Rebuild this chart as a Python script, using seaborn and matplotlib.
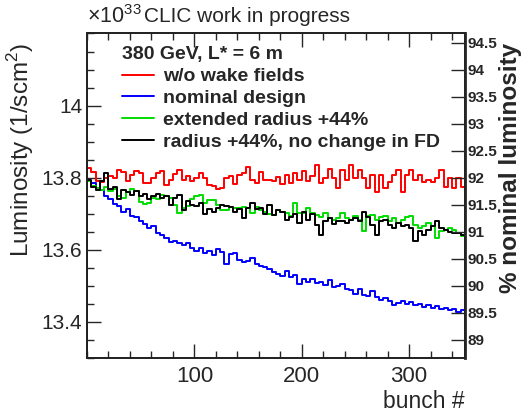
import matplotlib
matplotlib.use("Agg")
import matplotlib.pyplot as plt
from matplotlib.ticker import MultipleLocator
import numpy as np
import pandas as pd
import seaborn as sns

# bunch bins (4 bunches per bin, 352 bunches)
edges = np.arange(0, 356, 4)

# luminosity per bin (units of 1e33 / s cm^2)
wo_wake = [13.826, 13.816, 13.792, 13.788, 13.800, 13.806, 13.798, 13.822, 13.815, 13.790,
           13.807, 13.820, 13.812, 13.786, 13.784, 13.800, 13.812, 13.820, 13.780, 13.795,
           13.810, 13.822, 13.795, 13.805, 13.790, 13.800, 13.812, 13.798, 13.780, 13.778,
           13.770, 13.772, 13.800, 13.805, 13.782, 13.808, 13.812, 13.830, 13.795, 13.785,
           13.815, 13.795, 13.793, 13.790, 13.803, 13.782, 13.808, 13.786, 13.812, 13.795,
           13.820, 13.790, 13.806, 13.835, 13.785, 13.798, 13.825, 13.798, 13.771, 13.821,
           13.794, 13.835, 13.798, 13.821, 13.798, 13.771, 13.807, 13.761, 13.807, 13.771,
           13.789, 13.807, 13.821, 13.761, 13.807, 13.821, 13.794, 13.807, 13.789, 13.794,
           13.789, 13.800, 13.821, 13.775, 13.798, 13.771, 13.800, 13.775]
nominal = [13.790, 13.785, 13.770, 13.765, 13.748, 13.742, 13.728, 13.722, 13.705, 13.712,
           13.695, 13.690, 13.680, 13.672, 13.660, 13.665, 13.648, 13.640, 13.632, 13.622,
           13.625, 13.618, 13.612, 13.620, 13.605, 13.598, 13.604, 13.592, 13.598, 13.585,
           13.602, 13.594, 13.560, 13.588, 13.590, 13.572, 13.565, 13.570, 13.576, 13.560,
           13.555, 13.552, 13.548, 13.538, 13.532, 13.528, 13.540, 13.525, 13.530, 13.505,
           13.520, 13.512, 13.518, 13.508, 13.512, 13.502, 13.515, 13.498, 13.500, 13.505,
           13.492, 13.488, 13.478, 13.490, 13.476, 13.472, 13.485, 13.468, 13.462, 13.465,
           13.458, 13.448, 13.452, 13.458, 13.450, 13.455, 13.446, 13.450, 13.442, 13.448,
           13.440, 13.444, 13.436, 13.440, 13.432, 13.436, 13.428, 13.432]
ext_radius = [13.790, 13.776, 13.772, 13.765, 13.775, 13.762, 13.770, 13.748, 13.745, 13.760,
              13.770, 13.762, 13.732, 13.728, 13.730, 13.745, 13.740, 13.752, 13.748, 13.745,
              13.725, 13.702, 13.715, 13.722, 13.740, 13.750, 13.752, 13.730, 13.738, 13.739,
              13.725, 13.711, 13.711, 13.720, 13.716, 13.716, 13.720, 13.716, 13.702, 13.720,
              13.711, 13.706, 13.700, 13.697, 13.711, 13.706, 13.702, 13.695, 13.729, 13.702,
              13.702, 13.716, 13.702, 13.697, 13.690, 13.702, 13.688, 13.684, 13.688, 13.702,
              13.688, 13.684, 13.693, 13.684, 13.651, 13.693, 13.697, 13.684, 13.690, 13.693,
              13.679, 13.688, 13.674, 13.684, 13.690, 13.693, 13.670, 13.660, 13.665, 13.674,
              13.665, 13.633, 13.651, 13.656, 13.660, 13.656, 13.647, 13.638]
radius_no_fd = [13.794, 13.775, 13.766, 13.790, 13.812, 13.770, 13.775, 13.740, 13.765, 13.760,
                13.752, 13.762, 13.748, 13.755, 13.742, 13.750, 13.755, 13.745, 13.748, 13.725,
                13.745, 13.752, 13.711, 13.735, 13.725, 13.722, 13.730, 13.700, 13.712, 13.705,
                13.716, 13.725, 13.722, 13.720, 13.706, 13.712, 13.688, 13.716, 13.729, 13.712,
                13.716, 13.700, 13.725, 13.697, 13.711, 13.704, 13.684, 13.690, 13.700, 13.674,
                13.705, 13.684, 13.700, 13.670, 13.642, 13.679, 13.688, 13.672, 13.680, 13.679,
                13.674, 13.684, 13.688, 13.680, 13.706, 13.690, 13.670, 13.642, 13.679, 13.684,
                13.670, 13.661, 13.674, 13.665, 13.670, 13.660, 13.624, 13.651, 13.642, 13.655,
                13.665, 13.679, 13.661, 13.656, 13.650, 13.647, 13.647, 13.642]

labels = ["w/o wake fields", "nominal design", "extended radius +44%",
          "radius +44%, no change in FD"]
colors = ["#ff0000", "#0000ff", "#00dd00", "#000000"]
l_nominal = 15.0   # 100 % nominal luminosity

# histogram outline: drop to the floor at both ends like ROOT does
floor = 13.0
rows = []
for lab, vals in zip(labels, [wo_wake, nominal, ext_radius, radius_no_fd]):
    xs = np.concatenate([[edges[0]], edges, [edges[-1]]])
    ys = np.concatenate([[floor], vals, [vals[-1], floor]])
    for x, y in zip(xs, ys):
        rows.append((lab, x, y))
df = pd.DataFrame(rows, columns=["series", "bunch", "lumi"])

sns.set_theme(style="ticks")
plt.rcParams["font.family"] = ["Liberation Sans", "DejaVu Sans"]
plt.rcParams["mathtext.fontset"] = "custom"
plt.rcParams["mathtext.rm"] = "Liberation Sans"

fig = plt.figure(figsize=(5.29, 4.11), dpi=100)
ax = fig.add_axes([0.1645, 0.129, 0.7145, 0.7895])

sns.lineplot(data=df, x="bunch", y="lumi", hue="series", hue_order=labels,
             palette=colors, sort=False, estimator=None, drawstyle="steps-post",
             linewidth=1.4, ax=ax, legend=False)

ax.set_xlim(0, 352)
ax.set_ylim(13.3, 14.2)
ax.xaxis.set_minor_locator(MultipleLocator(20))
ax.yaxis.set_minor_locator(MultipleLocator(0.05))
ax.set_yticks([13.4, 13.6, 13.8, 14.0], ["13.4", "13.6", "13.8", "14"])
ax.set_xticks([100, 200, 300])
ax.tick_params(which="both", direction="in", top=True, right=False, width=1)
ax.tick_params(axis="y", labelsize=15)
ax.tick_params(axis="x", labelsize=16, pad=6)
ax.tick_params(which="major", length=10)
ax.tick_params(which="minor", length=5)
ax.set_xlabel("")
ax.set_ylabel("")
for sp in ax.spines.values():
    sp.set_linewidth(1.3)
    sp.set_color("black")

ax2 = ax.twinx()
lo, hi = ax.get_ylim()
ax2.set_ylim(lo / l_nominal * 100, hi / l_nominal * 100)
pct_ticks = np.arange(89, 94.51, 0.5)
ax2.set_yticks(pct_ticks)
ax2.set_yticklabels([f"{v:g}" for v in pct_ticks], fontweight="bold")
ax2.tick_params(axis="y", direction="in", length=10, width=1, labelsize=11, pad=2)
ax2.spines["right"].set_linewidth(2)

# legend
handles = [plt.Line2D([], [], color=c, lw=1.4) for c in colors]
leg = ax.legend(handles, labels, loc="upper left", bbox_to_anchor=(0.068, 0.99),
                frameon=False, borderpad=0, handlelength=1.6, handletextpad=0.5,
                labelspacing=0.22, title="380 GeV, L* = 6 m", alignment="left",
                prop={"size": 14, "weight": "bold"},
                title_fontproperties={"size": 14, "weight": "bold"})

fig.text(87 / 529, 1 - 17 / 411, r"$\times10^{33}$", fontsize=15.5, va="center", ha="left")
fig.text(144 / 529, 1 - 16 / 411, "CLIC work in progress", fontsize=15, va="center", ha="left")
fig.text(21 / 529, 1 - 150 / 411, "Luminosity (1/scm$^2$)", fontsize=17.5, rotation=90,
         va="center", ha="center")
fig.text(511 / 529, 1 - 168 / 411, "% nominal luminosity", fontsize=17.5, fontweight="bold",
         rotation=90, va="center", ha="center")
fig.text(465 / 529, 1 - 401 / 411, "bunch #", fontsize=16.5, va="center", ha="right")

fig.savefig("out.png", dpi=100)
